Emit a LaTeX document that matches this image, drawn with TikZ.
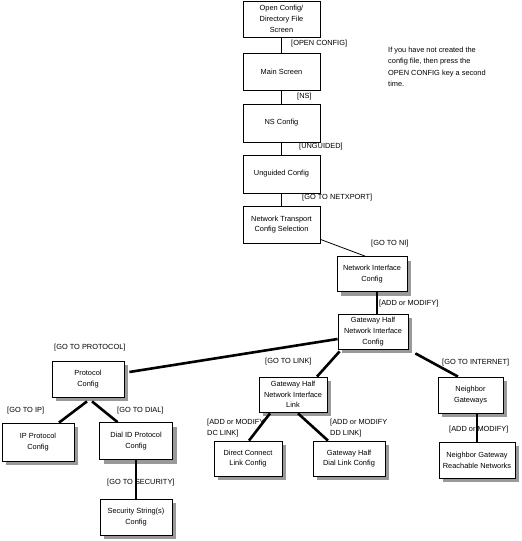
\documentclass[tikz,border=0pt]{standalone}
\usepackage{fontspec}
\setmainfont{Liberation Sans}
\usetikzlibrary{shadows,calc}
\newcommand{\dfont}{\fontsize{7.4}{10.8}\selectfont}
\tikzset{
  box/.style={draw, line width=0.8pt, fill=white, align=center, inner sep=0pt, font=\dfont},
  sbox/.style={box, drop shadow={shadow xshift=4pt, shadow yshift=-4pt, fill=black!40, opacity=1}},
  lbl/.style={anchor=west, inner sep=0pt, font=\dfont},
  thinline/.style={line width=0.8pt},
  thickline/.style={line width=2.6pt},
}
\begin{document}
\begin{tikzpicture}[x=1pt, y=-1pt]
\useasboundingbox (0,0) rectangle (522,541);
% top chain
\node[box, minimum width=77pt, minimum height=36pt] (oc) at (281.5,19) {Open Config/\\Directory File\\Screen};
\node[box, minimum width=77pt, minimum height=37pt] (ms) at (281.5,71.5) {Main Screen};
\node[box, minimum width=77pt, minimum height=38pt] (ns) at (281.5,123) {NS Config};
\node[box, minimum width=77pt, minimum height=38pt] (ug) at (281.5,174) {Unguided Config};
\node[box, minimum width=77pt, minimum height=37pt] (nt) at (281.5,224.5) {Network Transport\\Config Selection};
\node[lbl] (l1) at (291,44) {[OPEN CONFIG]};
\node[lbl] (l2) at (297,97) {[NS]};
\node[lbl] (l3) at (299,147) {[UNGUIDED]};
\node[lbl] (l4) at (302,198) {[GO TO NETXPORT]};
\node[anchor=north west, inner sep=0pt, align=left, font=\fontsize{7.4}{11.3}\selectfont] (note) at (388,47)
  {If you have not created the\\config file, then press the\\OPEN CONFIG key a second\\time.};
\draw[thinline] (oc) -- (ms);
\draw[thinline] (ms) -- (ns);
\draw[thinline] (ns) -- (ug);
\draw[thinline] (ug) -- (nt);
% network interface
\node[sbox, minimum width=70pt, minimum height=35pt] (ni) at (372,274) {Network Interface\\Config};
\node[sbox, minimum width=70pt, minimum height=35pt] (gh) at (373,331.5) {Gateway Half\\Network Interface\\Config};
\node[lbl] (l5) at (371,244) {[GO TO NI]};
\node[lbl] (l6) at (379,304) {[ADD or MODIFY]};
\draw[thinline] ([yshift=4pt]nt.south east) -- ([xshift=-7pt]ni.north);
\draw[thickline] ([xshift=5pt]ni.south) -- ([xshift=4pt]gh.north);
% protocol branch
\node[sbox, minimum width=72pt, minimum height=36pt] (pc) at (88,379) {Protocol\\Config};
\node[sbox, minimum width=72pt, minimum height=38pt] (ip) at (38,442) {IP Protocol\\Config};
\node[sbox, minimum width=73pt, minimum height=37pt] (dial) at (136,441) {Dial ID Protocol\\Config};
\node[sbox, minimum width=72pt, minimum height=36pt] (sec) at (136,517) {Security String(s)\\Config};
\node[lbl] (l7) at (54,348) {[GO TO PROTOCOL]};
\node[lbl] (l8) at (7,411) {[GO TO IP]};
\node[lbl] (l9) at (117,411) {[GO TO DIAL]};
\node[lbl] (l10) at (107,483) {[GO TO SECURITY]};
\draw[thickline] ([xshift=5pt,yshift=7pt]pc.east) -- ([yshift=-7.5pt]gh.west);
\draw[thickline] ([xshift=-1pt,yshift=-4pt]pc.south) -- ([xshift=21pt]ip.north);
\draw[thickline] ([xshift=4pt,yshift=-4pt]pc.south) -- ([xshift=-18.5pt]dial.north);
\draw[thickline] (dial) -- (sec);
% link branch
\node[sbox, minimum width=68pt, minimum height=35pt] (ghnil) at (293,394.5) {Gateway Half\\Network Interface\\Link};
\node[sbox, minimum width=68pt, minimum height=35pt] (dc) at (248,458.5) {Direct Connect\\Link Config};
\node[sbox, minimum width=72pt, minimum height=35pt] (ghdl) at (349,458.5) {Gateway Half\\Dial Link Config};
\node[lbl] (l11) at (265,362) {[GO TO LINK]};
\node[anchor=north west, inner sep=0pt, align=left, font=\dfont] (l12) at (207,419) {[ADD or MODIFY\\DC LINK]};
\node[anchor=north west, inner sep=0pt, align=left, font=\dfont] (l13) at (330,419) {[ADD or MODIFY\\DD LINK]};
\draw[thickline] ([xshift=2pt,yshift=-2pt]gh.south west) -- ([xshift=24pt]ghnil.north);
\draw[thickline] ([xshift=-23pt,yshift=-1pt]ghnil.south) -- ([xshift=1pt]dc.north);
\draw[thickline] ([xshift=5pt,yshift=-1pt]ghnil.south) -- ([xshift=-21pt]ghdl.north);
% internet branch
\node[sbox, minimum width=65pt, minimum height=36pt] (ng) at (470.5,395) {Neighbor\\Gateways};
\node[sbox, minimum width=76pt, minimum height=36pt] (ngrn) at (477,460) {Neighbor Gateway\\Reachable Networks};
\node[lbl] (l14) at (442,363) {[GO TO INTERNET]};
\node[lbl] (l15) at (449,430) {[ADD or MODIFY]};
\draw[thickline] ([xshift=7pt,yshift=-4pt]gh.south east) -- ([xshift=-12.5pt]ng.north);
\draw[thickline] ([xshift=6.5pt]ng.south) -- (ngrn.north);
\end{tikzpicture}
\end{document}
